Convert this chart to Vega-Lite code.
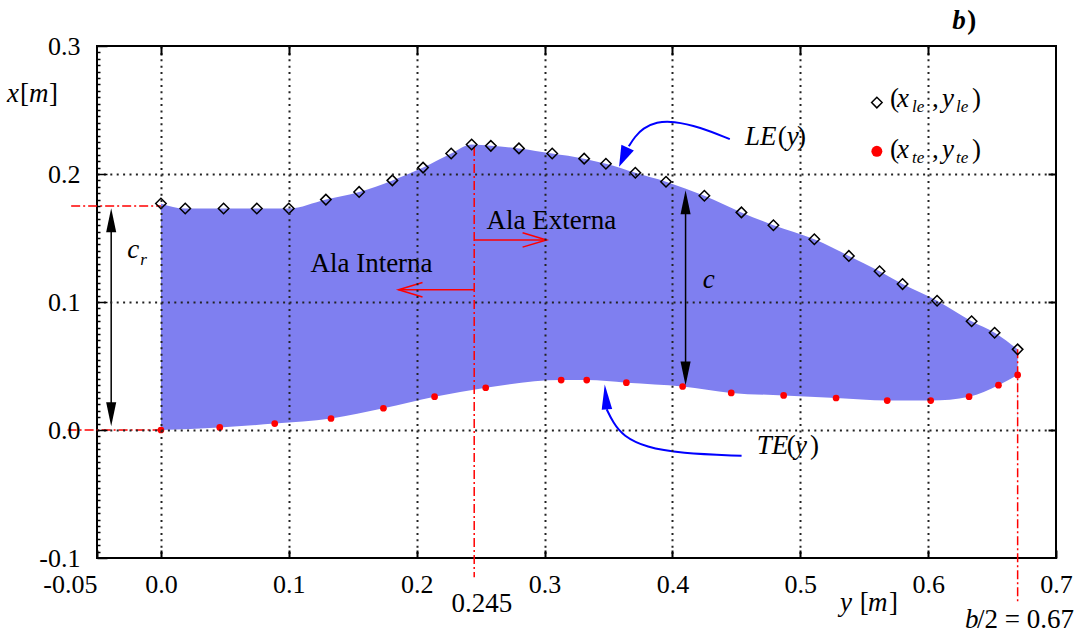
{
  "$schema": "https://vega.github.io/schema/vega-lite/v6.json",
  "width": 959,
  "height": 512,
  "autosize": {"type": "none"},
  "padding": {"left": 97, "top": 46, "right": 29, "bottom": 76},
  "background": "white",
  "config": {
    "view": {"stroke": "black", "strokeWidth": 2},
    "font": "Liberation Serif",
    "axis": {"labelFont": "Liberation Serif", "labelColor": "black"}
  },
  "resolve": {"axis": {"x": "independent", "y": "independent"}},
  "datasets": {
    "le": [
      {"ym": 0, "xm": 0.177}, {"ym": 0.019, "xm": 0.173}, {"ym": 0.049, "xm": 0.173}, {"ym": 0.075, "xm": 0.173},
      {"ym": 0.1, "xm": 0.173}, {"ym": 0.129, "xm": 0.18}, {"ym": 0.155, "xm": 0.186}, {"ym": 0.181, "xm": 0.195},
      {"ym": 0.205, "xm": 0.205}, {"ym": 0.227, "xm": 0.216}, {"ym": 0.243, "xm": 0.223}, {"ym": 0.258, "xm": 0.222},
      {"ym": 0.28, "xm": 0.22}, {"ym": 0.306, "xm": 0.216}, {"ym": 0.331, "xm": 0.212}, {"ym": 0.348, "xm": 0.208},
      {"ym": 0.371, "xm": 0.201}, {"ym": 0.395, "xm": 0.194}, {"ym": 0.425, "xm": 0.183}, {"ym": 0.454, "xm": 0.17},
      {"ym": 0.479, "xm": 0.16}, {"ym": 0.511, "xm": 0.149}, {"ym": 0.538, "xm": 0.136}, {"ym": 0.562, "xm": 0.124},
      {"ym": 0.58, "xm": 0.114}, {"ym": 0.607, "xm": 0.101}, {"ym": 0.634, "xm": 0.085}, {"ym": 0.652, "xm": 0.076},
      {"ym": 0.67, "xm": 0.063}
    ],
    "te": [
      {"ym": 0, "xm": 0.0}, {"ym": 0.046, "xm": 0.002}, {"ym": 0.089, "xm": 0.005}, {"ym": 0.133, "xm": 0.009},
      {"ym": 0.174, "xm": 0.017}, {"ym": 0.214, "xm": 0.026}, {"ym": 0.254, "xm": 0.033}, {"ym": 0.313, "xm": 0.039},
      {"ym": 0.333, "xm": 0.039}, {"ym": 0.364, "xm": 0.037}, {"ym": 0.408, "xm": 0.034}, {"ym": 0.446, "xm": 0.029},
      {"ym": 0.487, "xm": 0.027}, {"ym": 0.528, "xm": 0.025}, {"ym": 0.568, "xm": 0.023}, {"ym": 0.602, "xm": 0.023},
      {"ym": 0.632, "xm": 0.026}, {"ym": 0.655, "xm": 0.035}, {"ym": 0.67, "xm": 0.043}
    ],
    "dashdot": [
      {"ya": 0.245, "yb": 0.245, "xa": 0.221, "xb": -0.115},
      {"ya": 0.67, "yb": 0.67, "xa": 0.063, "xb": -0.134},
      {"ya": -0.0702, "yb": 0, "xa": 0.175, "xb": 0.175},
      {"ya": -0.073, "yb": 0, "xa": 0, "xb": 0}
    ],
    "blackshaft": [
      {"ya": -0.0389, "yb": -0.0389, "xa": 0.165, "xb": 0.011},
      {"ya": 0.4103, "yb": 0.4103, "xa": 0.179, "xb": 0.043}
    ],
    "redshaft": [
      {"ya": 0.245, "yb": 0.1858, "xa": 0.1096, "xb": 0.1096},
      {"ya": 0.245, "yb": 0.3016, "xa": 0.1485, "xb": 0.1485}
    ],
    "curves": [
      {"id": "le", "i": 0, "ym": 0.4449, "xm": 0.2272},
      {"id": "le", "i": 1, "ym": 0.4214, "xm": 0.2368},
      {"id": "le", "i": 2, "ym": 0.4003, "xm": 0.2414},
      {"id": "le", "i": 3, "ym": 0.3878, "xm": 0.2407},
      {"id": "le", "i": 4, "ym": 0.3768, "xm": 0.2358},
      {"id": "le", "i": 5, "ym": 0.3706, "xm": 0.229},
      {"id": "le", "i": 6, "ym": 0.3659, "xm": 0.2217},
      {"id": "te", "i": 0, "ym": 0.4541, "xm": -0.0202},
      {"id": "te", "i": 1, "ym": 0.4058, "xm": -0.0181},
      {"id": "te", "i": 2, "ym": 0.3797, "xm": -0.0137},
      {"id": "te", "i": 3, "ym": 0.3614, "xm": -0.0047},
      {"id": "te", "i": 4, "ym": 0.3536, "xm": 0.0058},
      {"id": "te", "i": 5, "ym": 0.3486, "xm": 0.0162}
    ],
    "tipUp": [{"ym": -0.0389, "xm": 0.1733}, {"ym": 0.4103, "xm": 0.1874}],
    "tipDown": [{"ym": -0.0389, "xm": 0.0029}, {"ym": 0.4103, "xm": 0.0348}],
    "tipLE": [{"ym": 0.3583, "xm": 0.2056}],
    "tipTE": [{"ym": 0.3471, "xm": 0.0356}],
    "tipLeft": [{"ym": 0.1858, "xm": 0.1096}],
    "tipRight": [{"ym": 0.3016, "xm": 0.1485}],
    "legLE": [{"ym": 0.5599, "xm": 0.2558}],
    "legTE": [{"ym": 0.5599, "xm": 0.2177}],
    "txtUp": [
      {"ym": 0.1169, "xm": 0.1236, "t": "Ala Interna"},
      {"ym": 0.2547, "xm": 0.1571, "t": "Ala Externa"},
      {"ym": 0.2273, "xm": -0.1421, "t": "0.245"},
      {"ym": 0.4824, "xm": 0.2225, "t": "("},
      {"ym": 0.4974, "xm": 0.2225, "t": ")"},
      {"ym": 0.4895, "xm": -0.019, "t": "("},
      {"ym": 0.5076, "xm": -0.019, "t": ")"},
      {"ym": 0.6383, "xm": -0.1544, "t": "/2 = 0.67"},
      {"ym": 0.5466, "xm": -0.1412, "t": "["},
      {"ym": 0.5694, "xm": -0.1412, "t": "]"},
      {"ym": -0.1102, "xm": 0.256, "t": "["},
      {"ym": -0.0875, "xm": 0.256, "t": "]"},
      {"ym": 0.5702, "xm": 0.2521, "t": "("},
      {"ym": 0.6031, "xm": 0.2521, "t": ","},
      {"ym": 0.6344, "xm": 0.2521, "t": ")"},
      {"ym": 0.5702, "xm": 0.2123, "t": "("},
      {"ym": 0.6031, "xm": 0.2123, "t": ","},
      {"ym": 0.6344, "xm": 0.2123, "t": ")"}
    ],
    "txtIt": [
      {"ym": -0.1203, "xm": 0.256, "t": "x"},
      {"ym": -0.1031, "xm": 0.256, "t": "m"},
      {"ym": 0.531, "xm": -0.1412, "t": "y"},
      {"ym": 0.5529, "xm": -0.1412, "t": "m"},
      {"ym": 0.4567, "xm": 0.2225, "t": "LE"},
      {"ym": 0.4895, "xm": 0.2225, "t": "y"},
      {"ym": 0.466, "xm": -0.019, "t": "TE"},
      {"ym": 0.4958, "xm": -0.019, "t": "y"},
      {"ym": -0.0264, "xm": 0.1345, "t": "c"},
      {"ym": 0.4238, "xm": 0.1111, "t": "c"},
      {"ym": 0.6289, "xm": -0.1544, "t": "b"},
      {"ym": 0.5757, "xm": 0.2521, "t": "x"},
      {"ym": 0.6109, "xm": 0.2521, "t": "y"},
      {"ym": 0.5757, "xm": 0.2123, "t": "x"},
      {"ym": 0.6109, "xm": 0.2123, "t": "y"}
    ],
    "txtSub": [
      {"ym": -0.0162, "xm": 0.129, "t": "r"},
      {"ym": 0.5874, "xm": 0.2482, "t": "le"},
      {"ym": 0.6218, "xm": 0.2482, "t": "le"},
      {"ym": 0.5874, "xm": 0.2084, "t": "te"},
      {"ym": 0.6218, "xm": 0.2084, "t": "te"}
    ],
    "txtBI": [{"ym": 0.6188, "xm": 0.3136, "t": "b"}],
    "txtB": [{"ym": 0.6306, "xm": 0.3136, "t": ")"}]
  },
  "layer": [
    {
      "data": {"name": "le"},
      "mark": {"type": "area", "interpolate": "monotone", "color": "#7f7ff0", "opacity": 1},
      "encoding": {
        "x": {
          "field": "ym", "type": "quantitative",
          "scale": {"domain": [-0.05, 0.7], "nice": false, "zero": false},
          "axis": {
            "orient": "bottom", "title": null, "domain": false, "zindex": 1,
            "values": [-0.05, 0, 0.1, 0.2, 0.3, 0.4, 0.5, 0.6, 0.7],
            "tickSize": -8, "tickWidth": 2, "tickColor": "black",
            "labelFontSize": 26, "labelPadding": 21, "labelBaseline": "top",
            "labelFlush": false, "labelOverlap": false, "labelBound": false,
            "labelAlign": {"condition": {"test": "datum.value < -0.01", "value": "right"}, "value": "center"},
            "labelExpr": "datum.value < -0.01 ? '-0.05' : format(datum.value, '.1f')",
            "grid": true, "gridColor": "#222222", "gridDash": [2, 4.4], "gridWidth": 2,
            "gridOpacity": {"condition": {"test": "datum.value > -0.01 && datum.value < 0.65", "value": 1}, "value": 0}
          }
        },
        "y": {
          "field": "xm", "type": "quantitative",
          "scale": {"domain": [-0.1, 0.3], "nice": false, "zero": false},
          "axis": {
            "orient": "left", "title": null, "domain": false, "zindex": 1,
            "values": [-0.1,-0.095,-0.09,-0.085,-0.08,-0.075,-0.07,-0.065,-0.06,-0.055,-0.05,-0.045,-0.04,-0.035,-0.03,-0.025,-0.02,-0.015,-0.01,-0.005,0,0.005,0.01,0.015,0.02,0.025,0.03,0.035,0.04,0.045,0.05,0.055,0.06,0.065,0.07,0.075,0.08,0.085,0.09,0.095,0.1,0.105,0.11,0.115,0.12,0.125,0.13,0.135,0.14,0.145,0.15,0.155,0.16,0.165,0.17,0.175,0.18,0.185,0.19,0.195,0.2,0.205,0.21,0.215,0.22,0.225,0.23,0.235,0.24,0.245,0.25,0.255,0.26,0.265,0.27,0.275,0.28,0.285,0.29,0.295,0.3],
            "tickSize": {"condition": {"test": "abs(datum.value*10 - round(datum.value*10)) < 0.001", "value": -10}, "value": -3},
            "tickWidth": 1.5, "tickColor": "black",
            "labelFontSize": 26, "labelPadding": 27,
            "labelFlush": false, "labelOverlap": false, "labelBound": false,
            "labelExpr": "abs(datum.value*10 - round(datum.value*10)) < 0.001 ? (datum.value < -0.05 ? '-0.1' : format(datum.value, '.1f')) : ''",
            "grid": true, "gridColor": "#222222", "gridDash": [2, 4.4], "gridWidth": 2,
            "gridOpacity": {"condition": {"test": "abs(datum.value*10 - round(datum.value*10)) < 0.001 && datum.value > -0.05 && datum.value < 0.25", "value": 1}, "value": 0}
          }
        },
        "y2": {"datum": 0}
      }
    },
    {
      "data": {"name": "te"},
      "mark": {"type": "area", "interpolate": "monotone", "color": "white", "opacity": 1},
      "encoding": {
        "x": {"field": "ym", "type": "quantitative", "axis": null},
        "y": {"field": "xm", "type": "quantitative", "axis": null},
        "y2": {"datum": 0}
      }
    },
    {
      "data": {"name": "dashdot"},
      "mark": {"type": "rule", "color": "#ff0000", "strokeWidth": 1.5, "strokeDash": [9, 3, 2, 3]},
      "encoding": {
        "x": {"field": "ya", "type": "quantitative", "axis": null},
        "x2": {"field": "yb"},
        "y": {"field": "xa", "type": "quantitative", "axis": null},
        "y2": {"field": "xb"}
      }
    },
    {
      "data": {"name": "blackshaft"},
      "mark": {"type": "rule", "color": "black", "strokeWidth": 1.5},
      "encoding": {
        "x": {"field": "ya", "type": "quantitative", "axis": null},
        "x2": {"field": "yb"},
        "y": {"field": "xa", "type": "quantitative", "axis": null},
        "y2": {"field": "xb"}
      }
    },
    {
      "data": {"name": "redshaft"},
      "mark": {"type": "rule", "color": "#ff0000", "strokeWidth": 1.5},
      "encoding": {
        "x": {"field": "ya", "type": "quantitative", "axis": null},
        "x2": {"field": "yb"},
        "y": {"field": "xa", "type": "quantitative", "axis": null},
        "y2": {"field": "xb"}
      }
    },
    {
      "data": {"name": "curves"},
      "mark": {"type": "line", "color": "#0000ff", "strokeWidth": 2, "interpolate": "basis"},
      "encoding": {
        "x": {"field": "ym", "type": "quantitative", "axis": null},
        "y": {"field": "xm", "type": "quantitative", "axis": null},
        "detail": {"field": "id"},
        "order": {"field": "i", "type": "quantitative"}
      }
    },
    {
      "data": {"name": "tipUp"},
      "mark": {"type": "point", "shape": "M0,0L-0.42,2L0.42,2Z", "size": 576, "filled": true, "color": "black", "opacity": 1, "angle": 0},
      "encoding": {
        "x": {"field": "ym", "type": "quantitative", "axis": null},
        "y": {"field": "xm", "type": "quantitative", "axis": null}
      }
    },
    {
      "data": {"name": "tipDown"},
      "mark": {"type": "point", "shape": "M0,0L-0.42,2L0.42,2Z", "size": 576, "filled": true, "color": "black", "opacity": 1, "angle": 180},
      "encoding": {
        "x": {"field": "ym", "type": "quantitative", "axis": null},
        "y": {"field": "xm", "type": "quantitative", "axis": null}
      }
    },
    {
      "data": {"name": "tipLE"},
      "mark": {"type": "point", "shape": "M0,0L-0.65,2L0.65,2Z", "size": 441, "filled": true, "color": "#0000ff", "opacity": 1, "angle": 204},
      "encoding": {
        "x": {"field": "ym", "type": "quantitative", "axis": null},
        "y": {"field": "xm", "type": "quantitative", "axis": null}
      }
    },
    {
      "data": {"name": "tipTE"},
      "mark": {"type": "point", "shape": "M0,0L-0.42,2L0.42,2Z", "size": 625, "filled": true, "color": "#0000ff", "opacity": 1, "angle": -5},
      "encoding": {
        "x": {"field": "ym", "type": "quantitative", "axis": null},
        "y": {"field": "xm", "type": "quantitative", "axis": null}
      }
    },
    {
      "data": {"name": "tipLeft"},
      "mark": {"type": "point", "shape": "M2,-0.6L0,0L2,0.6", "size": 576, "filled": false, "color": "#ff0000", "strokeWidth": 1.5, "opacity": 1, "angle": 0},
      "encoding": {
        "x": {"field": "ym", "type": "quantitative", "axis": null},
        "y": {"field": "xm", "type": "quantitative", "axis": null}
      }
    },
    {
      "data": {"name": "tipRight"},
      "mark": {"type": "point", "shape": "M2,-0.6L0,0L2,0.6", "size": 576, "filled": false, "color": "#ff0000", "strokeWidth": 1.5, "opacity": 1, "angle": 180},
      "encoding": {
        "x": {"field": "ym", "type": "quantitative", "axis": null},
        "y": {"field": "xm", "type": "quantitative", "axis": null}
      }
    },
    {
      "data": {"name": "le"},
      "mark": {"type": "point", "shape": "diamond", "size": 110, "filled": false, "color": "black", "strokeWidth": 1.5, "opacity": 1},
      "encoding": {
        "x": {"field": "ym", "type": "quantitative", "axis": null},
        "y": {"field": "xm", "type": "quantitative", "axis": null}
      }
    },
    {
      "data": {"name": "te"},
      "mark": {"type": "point", "shape": "circle", "size": 45, "filled": true, "color": "#ff0000", "opacity": 1},
      "encoding": {
        "x": {
          "field": "ym", "type": "quantitative",
          "axis": {"orient": "top", "title": null, "labels": false, "domain": false, "grid": false, "zindex": 1,
                   "values": [0, 0.1, 0.2, 0.3, 0.4, 0.5, 0.6], "tickSize": -9, "tickWidth": 2, "tickColor": "black"}
        },
        "y": {
          "field": "xm", "type": "quantitative",
          "axis": {"orient": "right", "title": null, "labels": false, "domain": false, "grid": false, "zindex": 1,
                   "values": [0, 0.1, 0.2], "tickSize": -8, "tickWidth": 2, "tickColor": "black"}
        }
      }
    },
    {
      "data": {"name": "legLE"},
      "mark": {"type": "point", "shape": "diamond", "size": 110, "filled": false, "color": "black", "strokeWidth": 1.5, "opacity": 1},
      "encoding": {
        "x": {"field": "ym", "type": "quantitative", "axis": null},
        "y": {"field": "xm", "type": "quantitative", "axis": null}
      }
    },
    {
      "data": {"name": "legTE"},
      "mark": {"type": "point", "shape": "circle", "size": 120, "filled": true, "color": "#ff0000", "opacity": 1},
      "encoding": {
        "x": {"field": "ym", "type": "quantitative", "axis": null},
        "y": {"field": "xm", "type": "quantitative", "axis": null}
      }
    },
    {
      "data": {"name": "txtUp"},
      "mark": {"type": "text", "align": "left", "baseline": "alphabetic", "font": "Liberation Serif", "fontSize": 27, "color": "black"},
      "encoding": {
        "x": {"field": "ym", "type": "quantitative", "axis": null},
        "y": {"field": "xm", "type": "quantitative", "axis": null},
        "text": {"field": "t"}
      }
    },
    {
      "data": {"name": "txtIt"},
      "mark": {"type": "text", "align": "left", "baseline": "alphabetic", "font": "Liberation Serif", "fontSize": 27, "fontStyle": "italic", "color": "black"},
      "encoding": {
        "x": {"field": "ym", "type": "quantitative", "axis": null},
        "y": {"field": "xm", "type": "quantitative", "axis": null},
        "text": {"field": "t"}
      }
    },
    {
      "data": {"name": "txtSub"},
      "mark": {"type": "text", "align": "left", "baseline": "alphabetic", "font": "Liberation Serif", "fontSize": 17, "fontStyle": "italic", "color": "black"},
      "encoding": {
        "x": {"field": "ym", "type": "quantitative", "axis": null},
        "y": {"field": "xm", "type": "quantitative", "axis": null},
        "text": {"field": "t"}
      }
    },
    {
      "data": {"name": "txtBI"},
      "mark": {"type": "text", "align": "left", "baseline": "alphabetic", "font": "Liberation Serif", "fontSize": 27, "fontStyle": "italic", "fontWeight": "bold", "color": "black"},
      "encoding": {
        "x": {"field": "ym", "type": "quantitative", "axis": null},
        "y": {"field": "xm", "type": "quantitative", "axis": null},
        "text": {"field": "t"}
      }
    },
    {
      "data": {"name": "txtB"},
      "mark": {"type": "text", "align": "left", "baseline": "alphabetic", "font": "Liberation Serif", "fontSize": 27, "fontWeight": "bold", "color": "black"},
      "encoding": {
        "x": {"field": "ym", "type": "quantitative", "axis": null},
        "y": {"field": "xm", "type": "quantitative", "axis": null},
        "text": {"field": "t"}
      }
    }
  ]
}
